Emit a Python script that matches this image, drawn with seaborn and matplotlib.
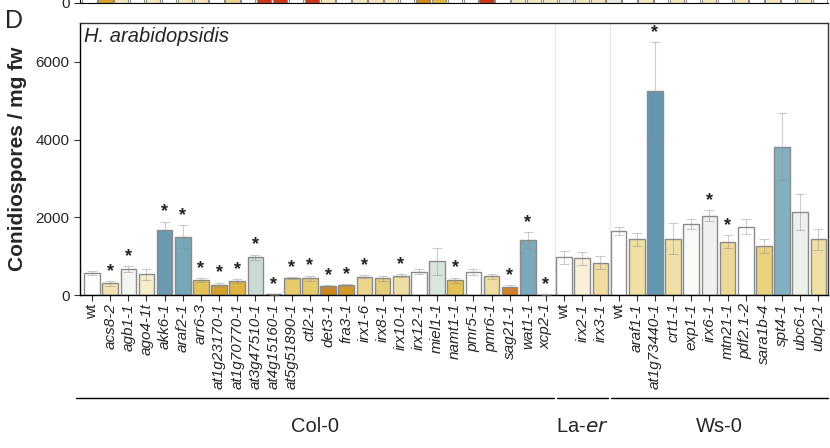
import numpy as np
import pandas as pd
import seaborn as sns
import matplotlib.pyplot as plt

sns.set_style("white")
plt.rcParams['font.family'] = ['Liberation Sans', 'DejaVu Sans']

# genotypes per background
col0 = ['wt', 'acs8-2', 'agb1-1', 'ago4-1t', 'akk6-1', 'araf2-1', 'arr6-3',
        'at1g23170-1', 'at1g70770-1', 'at3g47510-1', 'at4g15160-1', 'at5g51890-1',
        'ctl2-1', 'det3-1', 'fra3-1', 'irx1-6', 'irx8-1', 'irx10-1', 'irx12-1',
        'miel1-1', 'namt1-1', 'pmr5-1', 'pmr6-1', 'sag21-1', 'wat1-1', 'xcp2-1']
laer = ['wt', 'irx2-1', 'irx3-1']
ws0 = ['wt', 'araf1-1', 'at1g73440-1', 'crt1-1', 'exp1-1', 'irx6-1', 'mtn21-1',
       'pdf2.1-2', 'sara1b-4', 'spt4-1', 'ubc6-1', 'ubq2-1']

# conidiospores / mg fw (mean) and error
col0_mean = [570, 300, 670, 535, 1666, 1500, 386, 266, 352, 970, 15, 430,
             430, 223, 249, 472, 430, 498, 601, 867, 378, 601, 481, 197, 1416, 10]
col0_err = [50, 60, 80, 140, 220, 300, 40, 50, 50, 70, 15, 30,
            70, 30, 30, 40, 70, 40, 60, 350, 70, 80, 70, 60, 200, 10]
laer_mean = [970, 944, 832]
laer_err = [170, 170, 170]
ws0_mean = [1648, 1434, 5246, 1450, 1836, 2042, 1373, 1760, 1270, 3811, 2129, 1434]
ws0_err = [110, 170, 1260, 400, 130, 140, 160, 200, 180, 860, 460, 270]

col0_sig = [0, 1, 1, 0, 1, 1, 1, 1, 1, 1, 1, 1, 1, 1, 1, 1, 0, 1, 0, 0, 1, 0, 0, 1, 1, 1]
laer_sig = [0, 0, 0]
ws0_sig = [0, 0, 1, 0, 0, 1, 1, 0, 0, 0, 0, 0]

col0_colors = ['#FFFFFF', '#F2E4B0', '#F3F5F0', '#F5EDCC', '#6A9AB0', '#76A6B8', '#E3C25A',
               '#D4A02A', '#DDB540', '#C9D9D3', '#FFFFFF', '#E5CB6C', '#E5CB6C', '#D0841E',
               '#D39A2A', '#ECD68E', '#E6CD77', '#EEDEA4', '#FFFFFF', '#D9E6DC', '#E2C252',
               '#FFFFFF', '#EDDDA0', '#D6801C', '#7AA9BC', '#FFFFFF']
laer_colors = ['#FFFFFF', '#F8F0D8', '#EEDCA0']
ws0_colors = ['#FFFFFF', '#F0E0A4', '#6397B0', '#F0E0A8', '#F8FAF8', '#EEF2EE', '#EED898',
              '#FFFFFF', '#E8D27E', '#82B0C0', '#EDF1EC', '#F0E0A4']

# bottoms of the panel above (only a sliver visible)
prev_colors = ['#FFFFFF', '#D4A030', '#F3E7BC', '#FFFFFF', '#F3E7BC', '#FFFFFF', '#F3E7BC',
               '#F3E7BC', '#FFFFFF', '#EBD58E', '#FFFFFF', '#C8381A', '#C8381A', '#FFFFFF',
               '#C8381A', '#F3E7BC', '#FFFFFF', '#F3E7BC', '#F3E7BC', '#F3E7BC', '#FFFFFF',
               '#D08A1A', '#E0B840', '#FFFFFF', '#FFFFFF', '#C8381A', '#FFFFFF', '#F3E7BC',
               '#F3E7BC', '#F3E7BC', '#E3EBE3', '#F3E7BC', '#F3E7BC', '#E3EBE3', '#FFFFFF',
               '#F3E7BC', '#FFFFFF', '#F3E7BC', '#FFFFFF', '#F3E7BC', '#FFFFFF', '#F3E7BC',
               '#FFFFFF', '#F3E7BC', '#FFFFFF', '#F3E7BC', '#FFFFFF']

groups = [('Col-0', col0, col0_mean, col0_err, col0_sig, col0_colors),
          ('La-er', laer, laer_mean, laer_err, laer_sig, laer_colors),
          ('Ws-0', ws0, ws0_mean, ws0_err, ws0_sig, ws0_colors)]

rows = []
for bg, names, means, errs, sigs, cols in groups:
    for n, m, e, s, c in zip(names, means, errs, sigs, cols):
        rows.append(dict(bg=bg, genotype=n, key=f'{bg} {n}', mean=m, err=e, sig=s, color=c))
df = pd.DataFrame(rows)

fig = plt.figure(figsize=(8.3, 4.48), dpi=100)
ax = fig.add_axes([0.0964, 0.3415, 0.9012, 0.6072])

sns.barplot(data=df, x='key', y='mean', hue='key', palette=list(df['color']),
            order=list(df['key']), legend=False, ax=ax, width=0.86,
            edgecolor='#8a8a8a', linewidth=1.0, errorbar=None, saturation=1)

pos = np.arange(len(df))
ax.errorbar(pos, df['mean'], yerr=df['err'], fmt='none', ecolor='#909090',
            elinewidth=0.8, capsize=3.5, capthick=0.8, alpha=0.45, zorder=3)

for p, m, e, s in zip(pos, df['mean'], df['err'], df['sig']):
    if s:
        ax.text(p, m + e + 30, '*', ha='center', va='bottom', fontsize=13,
                fontweight='bold', color='#222222')

# separators between backgrounds
bounds = np.cumsum([len(g[1]) for g in groups])[:-1] - 0.5
for b in bounds:
    ax.axvline(b, color='#e6e6e6', lw=0.8, zorder=0)

ax.set_xlim(-0.66, len(df) - 0.47)
ax.set_ylim(0, 7000)
ax.set_yticks([0, 2000, 4000, 6000])
ax.tick_params(axis='y', labelsize=11, length=4, width=0.8, color='#333333', left=True)
ax.tick_params(axis='x', length=4, width=0.8, color='#333333', bottom=True, pad=2)
ax.set_xticks(pos)
ax.set_xticklabels(df['genotype'], rotation=90, fontsize=11)
for lab in ax.get_xticklabels():
    if lab.get_text() != 'wt':
        lab.set_fontstyle('italic')
ax.set_xlabel('')
ax.set_ylabel('Conidiospores / mg fw', fontsize=15, fontweight='bold', labelpad=6)
for sp in ax.spines.values():
    sp.set_color('#333333')
    sp.set_linewidth(1.0)
ax.spines['left'].set_color('black')
ax.spines['bottom'].set_color('black')

ax.text(0.006, 0.985, 'H. arabidopsidis', transform=ax.transAxes, ha='left', va='top',
        fontsize=14.5, fontstyle='italic')

# background group lines and labels under the tick labels
starts = np.concatenate([[-0.9], bounds + 0.08])
ends = np.concatenate([bounds - 0.08, [len(df) - 0.47]])
labels_y = -0.38
for (bg, names, *_), s, e in zip(groups, starts, ends):
    ax.plot([s, e], [labels_y, labels_y], transform=ax.get_xaxis_transform(),
            color='black', lw=1.0, clip_on=False)
    xm = (s + e) / 2
    txt = 'La-$\\it{er}$' if bg == 'La-er' else bg
    ax.text(xm, labels_y - 0.07, txt, transform=ax.get_xaxis_transform(),
            ha='center', va='top', fontsize=14.5)

fig.text(0.006, 0.953, 'D', fontsize=18, ha='left', va='center')

# sliver of the panel above
ax0 = fig.add_axes([0.0964, 0.9935, 0.9012, 0.05])
prev = pd.DataFrame(dict(k=[str(i) for i in range(len(prev_colors))],
                         v=[1.0] * len(prev_colors)))
sns.barplot(data=prev, x='k', y='v', hue='k', palette=prev_colors, legend=False,
            ax=ax0, width=0.9, edgecolor='#8a8a8a', linewidth=0.8, saturation=1)
ax0.set_ylim(0, 1)
ax0.set_xlim(-0.6, len(prev_colors) - 0.5)
ax0.set_yticks([0])
ax0.set_yticklabels(['0'], fontsize=11)
ax0.set_xticks([])
ax0.set_xlabel('')
ax0.set_ylabel('')
ax0.tick_params(axis='y', left=True, length=4, width=0.8)
for sp in ['top', 'right']:
    ax0.spines[sp].set_visible(False)
ax0.spines['left'].set_color('black')
ax0.spines['bottom'].set_color('black')

fig.savefig('out.png', dpi=100)
